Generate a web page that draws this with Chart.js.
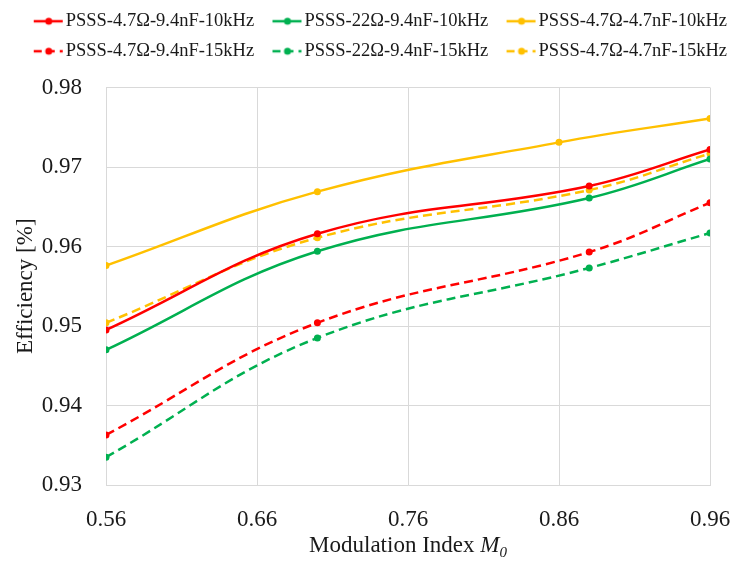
<!DOCTYPE html>
<html>
<head>
<meta charset="utf-8">
<title>Efficiency vs modulation index</title>
<script src="https://cdn.jsdelivr.net/npm/chart.js@4.4.1/dist/chart.umd.min.js"></script>
<style>
  html, body { margin: 0; padding: 0; background: #fff; }
</style>
</head>
<body>
<canvas id="effChart" width="734" height="564"></canvas>
<script>
// modulation index points of each sweep
const mSteps = [0.56, 0.70, 0.88, 0.96];
const mStepsGold10 = [0.56, 0.70, 0.86, 0.96];

// measured efficiency per configuration
const eff47_94_10 = [0.9495, 0.9616, 0.9676, 0.9722];
const eff22_94_10 = [0.9470, 0.9594, 0.9661, 0.9710];
const eff47_47_10 = [0.9576, 0.9669, 0.9731, 0.9761];
const eff47_94_15 = [0.9363, 0.9504, 0.9593, 0.9655];
const eff22_94_15 = [0.9335, 0.9485, 0.9573, 0.9617];
const eff47_47_15 = [0.9504, 0.9611, 0.9671, 0.9717];

const xTicks = [0.56, 0.66, 0.76, 0.86, 0.96];
const yTicks = [0.93, 0.94, 0.95, 0.96, 0.97, 0.98];

const RED = '#ff0000', GREEN = '#00b050', GOLD = '#ffc000';
const FONT = "'Liberation Serif', 'Times New Roman', serif";
const TEXT = '#1a1a1a';
const GRID = '#d9d9d9';

const series = [
  { label: 'PSSS-4.7Ω-9.4nF-10kHz', xs: mSteps, ys: eff47_94_10, color: RED, dashed: false },
  { label: 'PSSS-22Ω-9.4nF-10kHz', xs: mSteps, ys: eff22_94_10, color: GREEN, dashed: false },
  { label: 'PSSS-4.7Ω-4.7nF-10kHz', xs: mStepsGold10, ys: eff47_47_10, color: GOLD, dashed: false },
  { label: 'PSSS-4.7Ω-9.4nF-15kHz', xs: mSteps, ys: eff47_94_15, color: RED, dashed: true },
  { label: 'PSSS-22Ω-9.4nF-15kHz', xs: mSteps, ys: eff22_94_15, color: GREEN, dashed: true },
  { label: 'PSSS-4.7Ω-4.7nF-15kHz', xs: mSteps, ys: eff47_47_15, color: GOLD, dashed: true }
];

const datasets = series.map(s => ({
  label: s.label,
  data: s.xs.map((x, i) => ({ x, y: s.ys[i] })),
  borderColor: s.color,
  backgroundColor: s.color,
  borderWidth: 2.5,
  borderDash: s.dashed ? [9, 5] : [],
  tension: 0.4,
  pointRadius: 3.5,
  pointBorderWidth: 0,
  pointBackgroundColor: s.color,
  fill: false
}));

// little line-with-marker swatch for the legend
function legendIcon(color, dashed) {
  const c = document.createElement('canvas');
  c.width = 46; c.height = 12;
  const g = c.getContext('2d');
  g.strokeStyle = color; g.fillStyle = color; g.lineWidth = 2.5;
  if (dashed) g.setLineDash([8, 5]);
  g.beginPath(); g.moveTo(15, 6); g.lineTo(44, 6); g.stroke();
  g.beginPath(); g.arc(30, 6, 3.5, 0, Math.PI * 2); g.fill();
  return c;
}
const icons = series.map(s => legendIcon(s.color, s.dashed));

// legend rows sit a bit right / up from where Chart.js centres them
const legendNudge = {
  id: 'legendNudge',
  afterLayout(chart) {
    const lg = chart.legend;
    lg.left += 10; lg.right += 10;
    lg.top -= 17; lg.bottom -= 17;
  }
};

// x title with italic M and subscript 0
const xAxisTitle = {
  id: 'xAxisTitle',
  afterDraw(chart) {
    const { ctx, chartArea } = chart;
    const base = 'Modulation Index ';
    ctx.save();
    ctx.fillStyle = TEXT;
    ctx.textBaseline = 'alphabetic';
    ctx.font = '23px ' + FONT;
    const w1 = ctx.measureText(base).width;
    ctx.font = 'italic 23px ' + FONT;
    const w2 = ctx.measureText('M').width;
    ctx.font = 'italic 15px ' + FONT;
    const w3 = ctx.measureText('0').width;
    let x = (chartArea.left + chartArea.right) / 2 - (w1 + w2 + w3) / 2;
    const y = chartArea.bottom + 67;
    ctx.font = '23px ' + FONT;
    ctx.fillText(base, x, y); x += w1;
    ctx.font = 'italic 23px ' + FONT;
    ctx.fillText('M', x, y); x += w2;
    ctx.font = 'italic 15px ' + FONT;
    ctx.fillText('0', x, y + 5);
    ctx.restore();
  }
};

const tickFont = { family: FONT, size: 23 };

new Chart(document.getElementById('effChart'), {
  type: 'line',
  data: { datasets },
  options: {
    responsive: false,
    animation: false,
    layout: { padding: { top: 17.5 } },
    plugins: {
      legend: {
        position: 'top',
        labels: {
          usePointStyle: true,
          pointStyleWidth: 29.5,
          padding: 11.5,
          color: TEXT,
          font: { family: FONT, size: 18.5 },
          generateLabels(chart) {
            const items = Chart.defaults.plugins.legend.labels.generateLabels(chart);
            items.forEach(it => { it.pointStyle = icons[it.datasetIndex]; });
            return items;
          }
        }
      },
      tooltip: { enabled: false }
    },
    scales: {
      x: {
        type: 'linear',
        min: 0.56,
        max: 0.96,
        afterBuildTicks: s => { s.ticks = xTicks.map(v => ({ value: v })); },
        afterFit: s => { s.height = 79; s.paddingRight = 24; },
        ticks: { callback: v => v.toFixed(2), font: tickFont, color: TEXT, padding: 21 },
        grid: { color: GRID, drawTicks: false },
        border: { color: GRID }
      },
      y: {
        min: 0.93,
        max: 0.98,
        afterBuildTicks: s => { s.ticks = yTicks.map(v => ({ value: v })); },
        afterFit: s => { s.width = 106; },
        ticks: { callback: v => v.toFixed(2), font: tickFont, color: TEXT, padding: 24 },
        grid: { color: GRID, drawTicks: false },
        border: { color: GRID },
        title: {
          display: true,
          text: 'Efficiency [%]',
          color: TEXT,
          font: { family: FONT, size: 23 },
          padding: { top: 12, bottom: 0 }
        }
      }
    }
  },
  plugins: [legendNudge, xAxisTitle]
});
</script>
</body>
</html>
